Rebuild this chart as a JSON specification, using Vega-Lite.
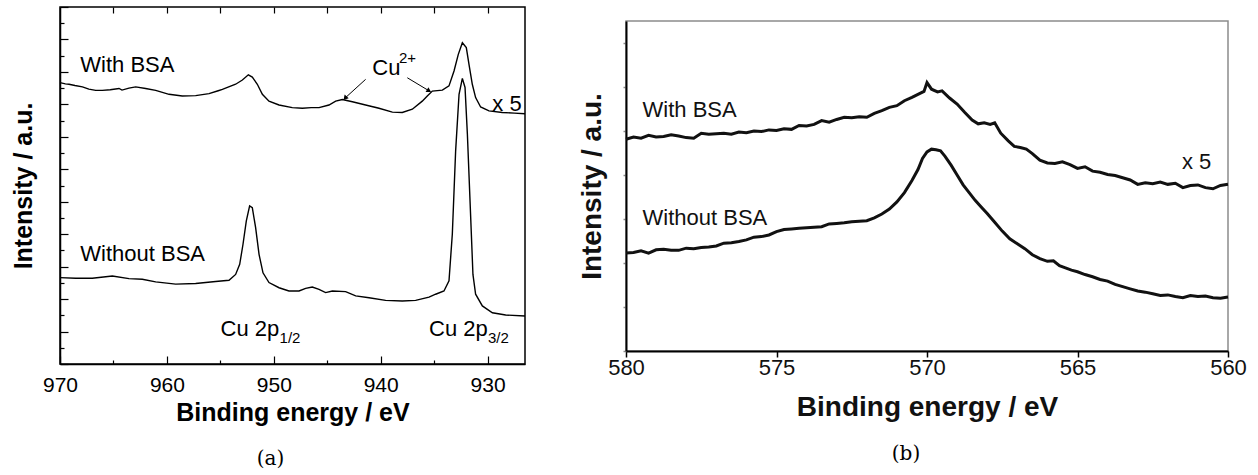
{
  "$schema": "https://vega.github.io/schema/vega-lite/v6.json",
  "background": "white",
  "padding": {"left": 10, "top": 5, "right": 0, "bottom": 0},
  "config": {"font": "Liberation Sans", "axis": {"grid": false}},
  "spacing": 48,
  "datasets": {
    "a": [
      {"s": "with", "e": 970.0, "i": 8.67}, {"s": "with", "e": 969.5, "i": 8.63}, {"s": "with", "e": 969.16, "i": 8.62}, {"s": "with", "e": 968.6, "i": 8.58},
      {"s": "with", "e": 967.9, "i": 8.54}, {"s": "with", "e": 967.3, "i": 8.47}, {"s": "with", "e": 966.66, "i": 8.43}, {"s": "with", "e": 966.04, "i": 8.43},
      {"s": "with", "e": 965.3, "i": 8.45}, {"s": "with", "e": 964.48, "i": 8.49}, {"s": "with", "e": 964.2, "i": 8.44}, {"s": "with", "e": 963.55, "i": 8.5},
      {"s": "with", "e": 962.92, "i": 8.54}, {"s": "with", "e": 961.99, "i": 8.49}, {"s": "with", "e": 961.05, "i": 8.43}, {"s": "with", "e": 959.8, "i": 8.31},
      {"s": "with", "e": 958.56, "i": 8.26}, {"s": "with", "e": 957.31, "i": 8.27}, {"s": "with", "e": 956.06, "i": 8.33}, {"s": "with", "e": 955.2, "i": 8.42},
      {"s": "with", "e": 954.81, "i": 8.46}, {"s": "with", "e": 953.57, "i": 8.62}, {"s": "with", "e": 952.94, "i": 8.75}, {"s": "with", "e": 952.38, "i": 8.91},
      {"s": "with", "e": 952.01, "i": 8.84}, {"s": "with", "e": 951.54, "i": 8.62}, {"s": "with", "e": 951.07, "i": 8.31}, {"s": "with", "e": 950.45, "i": 8.1},
      {"s": "with", "e": 949.51, "i": 7.98}, {"s": "with", "e": 948.27, "i": 7.9}, {"s": "with", "e": 947.33, "i": 7.88}, {"s": "with", "e": 946.5, "i": 7.9},
      {"s": "with", "e": 945.77, "i": 7.9}, {"s": "with", "e": 944.84, "i": 7.98}, {"s": "with", "e": 944.21, "i": 8.1}, {"s": "with", "e": 943.59, "i": 8.15},
      {"s": "with", "e": 942.65, "i": 8.08}, {"s": "with", "e": 941.41, "i": 7.98}, {"s": "with", "e": 940.16, "i": 7.88}, {"s": "with", "e": 938.91, "i": 7.76},
      {"s": "with", "e": 937.98, "i": 7.75}, {"s": "with", "e": 937.04, "i": 7.85}, {"s": "with", "e": 936.11, "i": 8.1}, {"s": "with", "e": 935.64, "i": 8.26},
      {"s": "with", "e": 935.17, "i": 8.41}, {"s": "with", "e": 934.23, "i": 8.44}, {"s": "with", "e": 933.61, "i": 8.57}, {"s": "with", "e": 933.14, "i": 9.03},
      {"s": "with", "e": 932.74, "i": 9.54}, {"s": "with", "e": 932.36, "i": 9.9}, {"s": "with", "e": 931.99, "i": 9.75}, {"s": "with", "e": 931.74, "i": 9.23},
      {"s": "with", "e": 931.43, "i": 8.62}, {"s": "with", "e": 931.12, "i": 8.21}, {"s": "with", "e": 930.65, "i": 7.92}, {"s": "with", "e": 929.87, "i": 7.8},
      {"s": "with", "e": 928.62, "i": 7.75}, {"s": "with", "e": 927.5, "i": 7.73}, {"s": "with", "e": 926.5, "i": 7.71},
      {"s": "without", "e": 970.0, "i": 2.66}, {"s": "without", "e": 968.53, "i": 2.64}, {"s": "without", "e": 966.98, "i": 2.64}, {"s": "without", "e": 965.1, "i": 2.71},
      {"s": "without", "e": 963.55, "i": 2.63}, {"s": "without", "e": 962.3, "i": 2.61}, {"s": "without", "e": 961.05, "i": 2.53}, {"s": "without", "e": 959.18, "i": 2.46},
      {"s": "without", "e": 957.31, "i": 2.48}, {"s": "without", "e": 955.44, "i": 2.54}, {"s": "without", "e": 954.19, "i": 2.58}, {"s": "without", "e": 953.57, "i": 2.76},
      {"s": "without", "e": 953.19, "i": 3.07}, {"s": "without", "e": 952.88, "i": 3.69}, {"s": "without", "e": 952.57, "i": 4.41}, {"s": "without", "e": 952.26, "i": 4.87},
      {"s": "without", "e": 952.01, "i": 4.82}, {"s": "without", "e": 951.7, "i": 4.2}, {"s": "without", "e": 951.38, "i": 3.38}, {"s": "without", "e": 951.01, "i": 2.81},
      {"s": "without", "e": 950.45, "i": 2.51}, {"s": "without", "e": 949.51, "i": 2.35}, {"s": "without", "e": 948.58, "i": 2.25}, {"s": "without", "e": 947.64, "i": 2.25},
      {"s": "without", "e": 947.02, "i": 2.33}, {"s": "without", "e": 946.4, "i": 2.37}, {"s": "without", "e": 945.77, "i": 2.3}, {"s": "without", "e": 945.15, "i": 2.2},
      {"s": "without", "e": 944.52, "i": 2.25}, {"s": "without", "e": 943.28, "i": 2.23}, {"s": "without", "e": 942.34, "i": 2.1}, {"s": "without", "e": 941.09, "i": 2.04},
      {"s": "without", "e": 939.54, "i": 1.96}, {"s": "without", "e": 937.98, "i": 1.94}, {"s": "without", "e": 936.73, "i": 1.96}, {"s": "without", "e": 935.48, "i": 2.06},
      {"s": "without", "e": 934.86, "i": 2.15}, {"s": "without", "e": 934.08, "i": 2.25}, {"s": "without", "e": 933.61, "i": 2.56}, {"s": "without", "e": 933.3, "i": 4.0},
      {"s": "without", "e": 932.99, "i": 6.56}, {"s": "without", "e": 932.67, "i": 8.31}, {"s": "without", "e": 932.36, "i": 8.8}, {"s": "without", "e": 932.11, "i": 8.52},
      {"s": "without", "e": 931.89, "i": 7.08}, {"s": "without", "e": 931.58, "i": 4.51}, {"s": "without", "e": 931.37, "i": 2.76}, {"s": "without", "e": 931.12, "i": 2.15},
      {"s": "without", "e": 930.49, "i": 1.79}, {"s": "without", "e": 929.55, "i": 1.58}, {"s": "without", "e": 928.31, "i": 1.51}, {"s": "without", "e": 926.5, "i": 1.48}
    ],
    "ta": [
      {"x": 968.1, "y": 9.21, "t": "With BSA"},
      {"x": 968.1, "y": 3.39, "t": "Without BSA"},
      {"x": 940.79, "y": 9.13, "t": "Cu"},
      {"x": 954.98, "y": 1.08, "t": "Cu 2p"},
      {"x": 935.48, "y": 1.08, "t": "Cu 2p"},
      {"x": 929.56, "y": 8.0, "t": "x 5"}
    ],
    "tas": [
      {"x": 938.29, "y": 9.42, "t": "2+"},
      {"x": 949.46, "y": 0.81, "t": "1/2"},
      {"x": 929.96, "y": 0.81, "t": "3/2"}
    ],
    "arrows": [
      {"id": 1, "x": 941.41, "y": 8.77, "x2": 943.28, "y2": 8.21},
      {"id": 2, "x": 937.51, "y": 8.82, "x2": 935.54, "y2": 8.43}
    ],
    "b": [
      {"s": "with", "e": 580.0, "i": 19.25}, {"s": "with", "e": 579.75, "i": 19.45}, {"s": "with", "e": 579.5, "i": 19.35}, {"s": "with", "e": 579.25, "i": 19.6},
      {"s": "with", "e": 579.0, "i": 19.45}, {"s": "with", "e": 578.75, "i": 19.5}, {"s": "with", "e": 578.5, "i": 19.65}, {"s": "with", "e": 578.25, "i": 19.55},
      {"s": "with", "e": 578.0, "i": 19.4}, {"s": "with", "e": 577.75, "i": 19.35}, {"s": "with", "e": 577.5, "i": 19.8}, {"s": "with", "e": 577.25, "i": 19.7},
      {"s": "with", "e": 577.0, "i": 19.75}, {"s": "with", "e": 576.75, "i": 19.8}, {"s": "with", "e": 576.5, "i": 19.7}, {"s": "with", "e": 576.25, "i": 19.9},
      {"s": "with", "e": 576.0, "i": 19.85}, {"s": "with", "e": 575.75, "i": 20.0}, {"s": "with", "e": 575.5, "i": 19.95}, {"s": "with", "e": 575.25, "i": 20.1},
      {"s": "with", "e": 575.0, "i": 20.05}, {"s": "with", "e": 574.75, "i": 20.2}, {"s": "with", "e": 574.5, "i": 20.15}, {"s": "with", "e": 574.25, "i": 20.5},
      {"s": "with", "e": 574.0, "i": 20.45}, {"s": "with", "e": 573.75, "i": 20.6}, {"s": "with", "e": 573.5, "i": 20.95}, {"s": "with", "e": 573.25, "i": 20.8},
      {"s": "with", "e": 573.0, "i": 21.05}, {"s": "with", "e": 572.75, "i": 21.25}, {"s": "with", "e": 572.5, "i": 21.2}, {"s": "with", "e": 572.25, "i": 21.3},
      {"s": "with", "e": 572.0, "i": 21.25}, {"s": "with", "e": 571.75, "i": 21.6}, {"s": "with", "e": 571.5, "i": 21.85}, {"s": "with", "e": 571.25, "i": 22.15},
      {"s": "with", "e": 571.0, "i": 22.3}, {"s": "with", "e": 570.75, "i": 22.75}, {"s": "with", "e": 570.5, "i": 23.05}, {"s": "with", "e": 570.25, "i": 23.4},
      {"s": "with", "e": 570.1, "i": 23.6}, {"s": "with", "e": 570.0, "i": 24.4}, {"s": "with", "e": 569.85, "i": 23.8}, {"s": "with", "e": 569.65, "i": 23.55},
      {"s": "with", "e": 569.5, "i": 23.65}, {"s": "with", "e": 569.25, "i": 23.0}, {"s": "with", "e": 569.0, "i": 22.45}, {"s": "with", "e": 568.75, "i": 21.7},
      {"s": "with", "e": 568.5, "i": 21.0}, {"s": "with", "e": 568.3, "i": 20.65}, {"s": "with", "e": 568.1, "i": 20.75}, {"s": "with", "e": 567.9, "i": 20.6},
      {"s": "with", "e": 567.75, "i": 20.75}, {"s": "with", "e": 567.55, "i": 19.8}, {"s": "with", "e": 567.3, "i": 19.1}, {"s": "with", "e": 567.1, "i": 18.6},
      {"s": "with", "e": 566.9, "i": 18.5}, {"s": "with", "e": 566.7, "i": 18.35}, {"s": "with", "e": 566.5, "i": 17.95}, {"s": "with", "e": 566.25, "i": 17.35},
      {"s": "with", "e": 566.0, "i": 17.1}, {"s": "with", "e": 565.75, "i": 17.05}, {"s": "with", "e": 565.5, "i": 17.2}, {"s": "with", "e": 565.25, "i": 16.95},
      {"s": "with", "e": 565.0, "i": 16.6}, {"s": "with", "e": 564.75, "i": 16.75}, {"s": "with", "e": 564.5, "i": 16.35}, {"s": "with", "e": 564.25, "i": 16.25},
      {"s": "with", "e": 564.0, "i": 16.05}, {"s": "with", "e": 563.75, "i": 15.95}, {"s": "with", "e": 563.5, "i": 15.75}, {"s": "with", "e": 563.25, "i": 15.55},
      {"s": "with", "e": 563.0, "i": 15.15}, {"s": "with", "e": 562.75, "i": 15.3}, {"s": "with", "e": 562.5, "i": 15.2}, {"s": "with", "e": 562.25, "i": 15.35},
      {"s": "with", "e": 562.0, "i": 15.15}, {"s": "with", "e": 561.75, "i": 15.25}, {"s": "with", "e": 561.5, "i": 14.85}, {"s": "with", "e": 561.25, "i": 15.05},
      {"s": "with", "e": 561.0, "i": 15.1}, {"s": "with", "e": 560.75, "i": 14.85}, {"s": "with", "e": 560.5, "i": 14.75}, {"s": "with", "e": 560.25, "i": 15.05},
      {"s": "with", "e": 560.0, "i": 15.15},
      {"s": "without", "e": 580.0, "i": 8.9}, {"s": "without", "e": 579.75, "i": 8.95}, {"s": "without", "e": 579.5, "i": 9.1}, {"s": "without", "e": 579.25, "i": 8.9},
      {"s": "without", "e": 579.0, "i": 9.2}, {"s": "without", "e": 578.75, "i": 9.25}, {"s": "without", "e": 578.5, "i": 9.15}, {"s": "without", "e": 578.25, "i": 9.15},
      {"s": "without", "e": 578.0, "i": 9.35}, {"s": "without", "e": 577.75, "i": 9.3}, {"s": "without", "e": 577.5, "i": 9.4}, {"s": "without", "e": 577.25, "i": 9.45},
      {"s": "without", "e": 577.0, "i": 9.55}, {"s": "without", "e": 576.75, "i": 9.8}, {"s": "without", "e": 576.5, "i": 9.85}, {"s": "without", "e": 576.25, "i": 9.95},
      {"s": "without", "e": 576.0, "i": 10.1}, {"s": "without", "e": 575.75, "i": 10.35}, {"s": "without", "e": 575.5, "i": 10.4}, {"s": "without", "e": 575.25, "i": 10.55},
      {"s": "without", "e": 575.0, "i": 10.85}, {"s": "without", "e": 574.75, "i": 11.05}, {"s": "without", "e": 574.5, "i": 11.1}, {"s": "without", "e": 574.25, "i": 11.15},
      {"s": "without", "e": 574.0, "i": 11.2}, {"s": "without", "e": 573.75, "i": 11.25}, {"s": "without", "e": 573.5, "i": 11.3}, {"s": "without", "e": 573.25, "i": 11.55},
      {"s": "without", "e": 573.0, "i": 11.6}, {"s": "without", "e": 572.75, "i": 11.65}, {"s": "without", "e": 572.5, "i": 11.75}, {"s": "without", "e": 572.25, "i": 11.8},
      {"s": "without", "e": 572.0, "i": 11.85}, {"s": "without", "e": 571.75, "i": 12.1}, {"s": "without", "e": 571.5, "i": 12.45}, {"s": "without", "e": 571.25, "i": 12.9},
      {"s": "without", "e": 571.0, "i": 13.55}, {"s": "without", "e": 570.75, "i": 14.4}, {"s": "without", "e": 570.5, "i": 15.5}, {"s": "without", "e": 570.3, "i": 16.5},
      {"s": "without", "e": 570.15, "i": 17.5}, {"s": "without", "e": 570.0, "i": 18.1}, {"s": "without", "e": 569.85, "i": 18.35}, {"s": "without", "e": 569.7, "i": 18.3},
      {"s": "without", "e": 569.55, "i": 18.2}, {"s": "without", "e": 569.4, "i": 17.7}, {"s": "without", "e": 569.2, "i": 16.9}, {"s": "without", "e": 569.0, "i": 16.0},
      {"s": "without", "e": 568.8, "i": 15.1}, {"s": "without", "e": 568.6, "i": 14.4}, {"s": "without", "e": 568.4, "i": 13.7}, {"s": "without", "e": 568.2, "i": 13.1},
      {"s": "without", "e": 568.0, "i": 12.5}, {"s": "without", "e": 567.75, "i": 11.7}, {"s": "without", "e": 567.5, "i": 10.9}, {"s": "without", "e": 567.25, "i": 10.2},
      {"s": "without", "e": 567.0, "i": 9.75}, {"s": "without", "e": 566.75, "i": 9.3}, {"s": "without", "e": 566.5, "i": 8.75}, {"s": "without", "e": 566.25, "i": 8.4},
      {"s": "without", "e": 566.0, "i": 8.15}, {"s": "without", "e": 565.8, "i": 8.2}, {"s": "without", "e": 565.6, "i": 7.75}, {"s": "without", "e": 565.4, "i": 7.55},
      {"s": "without", "e": 565.2, "i": 7.35}, {"s": "without", "e": 565.0, "i": 7.2}, {"s": "without", "e": 564.75, "i": 6.95}, {"s": "without", "e": 564.5, "i": 6.75},
      {"s": "without", "e": 564.25, "i": 6.5}, {"s": "without", "e": 564.0, "i": 6.35}, {"s": "without", "e": 563.75, "i": 6.05}, {"s": "without", "e": 563.5, "i": 5.85},
      {"s": "without", "e": 563.25, "i": 5.65}, {"s": "without", "e": 563.0, "i": 5.45}, {"s": "without", "e": 562.75, "i": 5.35}, {"s": "without", "e": 562.5, "i": 5.2},
      {"s": "without", "e": 562.25, "i": 5.05}, {"s": "without", "e": 562.0, "i": 5.1}, {"s": "without", "e": 561.75, "i": 4.95}, {"s": "without", "e": 561.5, "i": 4.85},
      {"s": "without", "e": 561.25, "i": 5.05}, {"s": "without", "e": 561.0, "i": 4.95}, {"s": "without", "e": 560.75, "i": 5.0}, {"s": "without", "e": 560.5, "i": 4.85},
      {"s": "without", "e": 560.25, "i": 4.8}, {"s": "without", "e": 560.0, "i": 4.9}
    ],
    "tb": [
      {"x": 579.45, "y": 21.9, "t": "With BSA"},
      {"x": 579.45, "y": 12.1, "t": "Without BSA"},
      {"x": 561.53, "y": 17.2, "t": "x 5"}
    ],
    "spacer": [{"k": 1}]
  },
  "hconcat": [
    {
      "width": 465,
      "height": 357,
      "view": {"stroke": "black", "strokeWidth": 1.5},
      "title": {"text": "(a)", "orient": "bottom", "anchor": "middle", "font": "DejaVu Serif", "fontSize": 20, "fontWeight": "normal", "color": "black", "offset": 24, "dx": -22},
      "resolve": {"axis": {"x": "independent", "y": "independent"}},
      "layer": [
        {
          "data": {"name": "a"},
          "mark": {"type": "line", "color": "black", "strokeWidth": 1.4},
          "encoding": {
            "x": {"field": "e", "type": "quantitative", "scale": {"domain": [926.5, 970], "reverse": true, "nice": false, "zero": false},
              "axis": {"orient": "bottom", "values": [970, 960, 950, 940, 930], "tickSize": -8, "tickColor": "black", "tickWidth": 1.2, "domainColor": "black", "domainWidth": 1.5,
                "labelFont": "Liberation Sans", "labelFontSize": 21, "labelColor": "black", "labelPadding": 18, "labelFlush": false,
                "title": "Binding energy / eV", "titleFont": "Liberation Sans", "titleFontSize": 25, "titleFontWeight": "bold", "titleColor": "black", "titlePadding": 5}},
            "y": {"field": "i", "type": "quantitative", "scale": {"domain": [0, 11], "nice": false, "zero": false},
              "axis": {"orient": "left", "values": [0, 1, 2, 3, 4, 5, 6, 7, 8, 9, 10, 11], "tickSize": -8, "tickColor": "black", "tickWidth": 1.2, "domainColor": "black", "domainWidth": 1.5,
                "labels": false, "title": "Intensity / a.u.", "titleFont": "Liberation Sans", "titleFontSize": 25, "titleFontWeight": "bold", "titleColor": "black", "titlePadding": 23}},
            "detail": {"field": "s"}
          }
        },
        {
          "data": {"name": "a"},
          "mark": {"type": "point", "opacity": 0},
          "encoding": {
            "x": {"field": "e", "type": "quantitative", "axis": {"orient": "bottom", "values": [965, 955, 945, 935], "tickSize": -4, "tickColor": "black", "tickWidth": 1.2, "domain": false, "labels": false, "title": null}},
            "y": {"field": "i", "type": "quantitative", "axis": {"orient": "left", "values": [0.5, 1.5, 2.5, 3.5, 4.5, 5.5, 6.5, 7.5, 8.5, 9.5, 10.5], "tickSize": -4, "tickColor": "black", "tickWidth": 1.2, "domain": false, "labels": false, "title": null}}
          }
        },
        {
          "data": {"name": "a"},
          "mark": {"type": "point", "opacity": 0},
          "encoding": {
            "x": {"field": "e", "type": "quantitative", "axis": {"orient": "top", "values": [965, 960, 955, 950, 945, 940, 935, 930], "tickSize": -6, "tickColor": "black", "tickWidth": 1.2, "domain": false, "labels": false, "title": null}},
            "y": {"field": "i", "type": "quantitative", "axis": null}
          }
        },
        {
          "data": {"name": "ta"},
          "mark": {"type": "text", "align": "left", "baseline": "middle", "font": "Liberation Sans", "fontSize": 22, "color": "black"},
          "encoding": {
            "x": {"field": "x", "type": "quantitative", "axis": null},
            "y": {"field": "y", "type": "quantitative", "axis": null},
            "text": {"field": "t"}
          }
        },
        {
          "data": {"name": "tas"},
          "mark": {"type": "text", "align": "left", "baseline": "middle", "font": "Liberation Sans", "fontSize": 15, "color": "black"},
          "encoding": {
            "x": {"field": "x", "type": "quantitative", "axis": null},
            "y": {"field": "y", "type": "quantitative", "axis": null},
            "text": {"field": "t"}
          }
        },
        {
          "data": {"name": "arrows"},
          "mark": {"type": "rule", "color": "black", "strokeWidth": 1},
          "encoding": {
            "x": {"field": "x", "type": "quantitative", "axis": null},
            "y": {"field": "y", "type": "quantitative", "axis": null},
            "x2": {"field": "x2"},
            "y2": {"field": "y2"}
          }
        },
        {
          "data": {"name": "arrows"},
          "transform": [{"filter": "datum.id == 1"}],
          "mark": {"type": "point", "shape": "triangle", "filled": true, "color": "black", "opacity": 1, "size": 30, "angle": 222},
          "encoding": {
            "x": {"field": "x2", "type": "quantitative", "axis": null},
            "y": {"field": "y2", "type": "quantitative", "axis": null}
          }
        },
        {
          "data": {"name": "arrows"},
          "transform": [{"filter": "datum.id == 2"}],
          "mark": {"type": "point", "shape": "triangle", "filled": true, "color": "black", "opacity": 1, "size": 30, "angle": 121},
          "encoding": {
            "x": {"field": "x2", "type": "quantitative", "axis": null},
            "y": {"field": "y2", "type": "quantitative", "axis": null}
          }
        }
      ]
    },
    {
      "spacing": 0,
      "vconcat": [
        {
          "width": 602,
          "height": 13,
          "view": {"stroke": null},
          "data": {"name": "spacer"},
          "mark": {"type": "text", "text": ""},
          "encoding": {}
        },
        {
          "width": 602,
          "height": 330,
          "view": {"stroke": "#8c8c8c", "strokeWidth": 1.5},
          "title": {"text": "(b)", "orient": "bottom", "anchor": "middle", "font": "DejaVu Serif", "fontSize": 20, "fontWeight": "normal", "color": "black", "offset": 23, "dx": -21},
          "layer": [
            {
              "data": {"name": "b"},
              "mark": {"type": "line", "color": "#111111", "strokeWidth": 3},
              "encoding": {
                "x": {"field": "e", "type": "quantitative", "scale": {"domain": [560, 580], "reverse": true, "nice": false, "zero": false},
                  "axis": {"orient": "bottom", "values": [580, 575, 570, 565, 560], "tickSize": 6, "tickColor": "black", "tickWidth": 1.5, "domainColor": "black", "domainWidth": 2,
                    "labelFont": "Liberation Sans", "labelFontSize": 22, "labelColor": "#111111", "labelPadding": 0, "labelFlush": false,
                    "title": "Binding energy / eV", "titleFont": "Liberation Sans", "titleFontSize": 28, "titleFontWeight": "bold", "titleColor": "#111111", "titlePadding": 15}},
                "y": {"field": "i", "type": "quantitative", "scale": {"domain": [0, 30], "nice": false, "zero": false},
                  "axis": {"orient": "left", "values": [0, 1, 2, 3, 4, 5, 6, 7, 8, 9, 10, 11, 12, 13, 14, 15, 16, 17, 18, 19, 20, 21, 22, 23, 24, 25, 26, 27, 28, 29, 30], "tickSize": 3, "tickColor": "#8c8c8c", "tickWidth": 1.5,
                    "domainColor": "black", "domainWidth": 2, "labels": false,
                    "title": "Intensity / a.u.", "titleFont": "Liberation Sans", "titleFontSize": 28, "titleFontWeight": "bold", "titleColor": "#111111", "titlePadding": 16}},
                "detail": {"field": "s"}
              }
            },
            {
              "data": {"name": "tb"},
              "mark": {"type": "text", "align": "left", "baseline": "middle", "font": "Liberation Sans", "fontSize": 22, "color": "#111111"},
              "encoding": {
                "x": {"field": "x", "type": "quantitative"},
                "y": {"field": "y", "type": "quantitative"},
                "text": {"field": "t"}
              }
            }
          ]
        }
      ]
    }
  ]
}
